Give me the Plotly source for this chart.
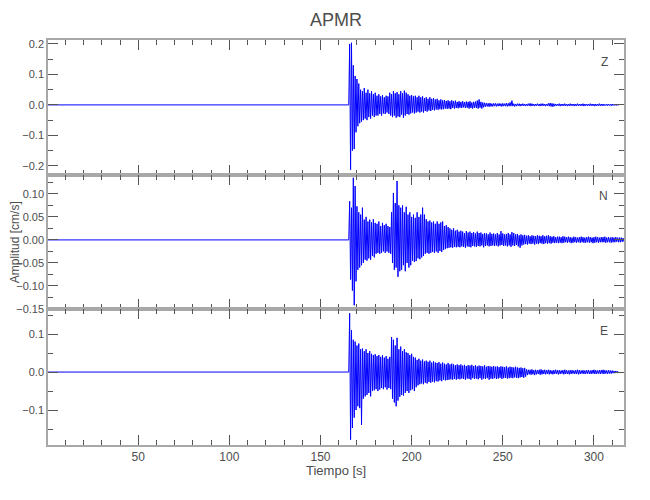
import plotly.graph_objects as go
from plotly.subplots import make_subplots

# ---- data ----
# Amplitudes in 0.001 cm/s. For each 1-s window starting at t_onset, the
# highest (max) and lowest (min) value of the trace in that window.
t_start = 0.5          # first sample time [s]
t_onset = 165.0        # start of the first window [s]
win = 1.0              # window length [s]
scale = 0.001          # cm/s per stored unit

z_max = [0, 200, 204, 130, 95, 85, 70, 50, 45, 55,
         40, 50, 38, 45, 35, 40, 30, 35, 28, 32,
         25, 30, 28, 40, 35, 45, 38, 42, 35, 45,
         38, 47, 40, 35, 30, 32, 28, 30, 25, 30,
         25, 28, 22, 25, 20, 25, 20, 22, 18, 20,
         15, 18, 15, 16, 13, 15, 12, 15, 12, 14,
         10, 12, 10, 12, 9, 11, 10, 12, 8, 10,
         11, 14, 18, 10, 8, 7, 6, 5, 6, 4,
         5, 5, 4, 5, 4, 5, 4, 6, 5, 8,
         14, 4, 3, 4, 4, 3, 4, 3, 3, 4,
         5, 4, 3, 3, 4, 3, 4, 4, 3, 3,
         5, 6, 5, 4, 3, 3, 4, 3, 3, 4,
         3, 3, 4, 3, 3, 3, 4, 3, 3, 4,
         3, 3, 3, 4, 3, 3, 3, 3, 4, 3,
         3, 2, 3, 3, 2, 3, 2, 2, 1]
z_min = [0, -213, -150, -145, -90, -70, -60, -55, -50, -45,
         -50, -40, -45, -35, -40, -35, -35, -30, -35, -28,
         -30, -25, -30, -35, -40, -35, -42, -38, -40, -32,
         -42, -35, -30, -32, -28, -25, -28, -25, -22, -25,
         -22, -25, -20, -22, -18, -20, -16, -18, -15, -16,
         -14, -15, -14, -12, -13, -12, -14, -10, -12, -10,
         -11, -9, -10, -8, -10, -9, -12, -10, -12, -9,
         -10, -12, -9, -12, -8, -6, -5, -6, -5, -5,
         -4, -5, -4, -4, -5, -4, -4, -5, -4, -4,
         -4, -5, -4, -3, -4, -3, -3, -4, -3, -3,
         -4, -3, -4, -3, -3, -4, -3, -3, -4, -3,
         -4, -5, -6, -4, -3, -3, -4, -3, -3, -3,
         -4, -3, -3, -3, -4, -3, -3, -3, -3, -4,
         -3, -3, -3, -3, -3, -4, -3, -3, -3, -3,
         -3, -2, -3, -2, -3, -2, -2, -2, -1]

n_max = [0, 84, 70, 135, 117, 73, 60, 55, 70, 44,
         50, 40, 44, 38, 45, 37, 35, 40, 30, 37,
         32, 35, 30, 28, 60, 102, 80, 128, 75, 70,
         75, 60, 72, 55, 60, 50, 55, 48, 60, 50,
         55, 70, 55, 45, 40, 42, 38, 40, 35, 40,
         35, 38, 40, 30, 32, 28, 25, 22, 25, 20,
         22, 18, 20, 18, 15, 19, 16, 18, 15, 17,
         14, 18, 15, 16, 13, 15, 14, 12, 16, 13,
         14, 12, 15, 12, 19, 14, 12, 13, 15, 12,
         17, 15, 12, 13, 10, 12, 10, 11, 9, 10,
         8, 10, 9, 8, 10, 9, 8, 10, 8, 9,
         10, 8, 7, 8, 6, 7, 7, 6, 8, 7,
         6, 7, 6, 5, 7, 6, 5, 6, 7, 6,
         5, 6, 7, 6, 5, 6, 7, 6, 5, 6,
         6, 7, 5, 6, 5, 6, 5, 6, 5, 5,
         5, 4]
n_min = [0, -86, -110, -142, -90, -65, -60, -55, -50, -43,
         -45, -40, -43, -35, -38, -30, -28, -30, -28, -25,
         -28, -25, -28, -30, -50, -65, -60, -80, -68, -65,
         -55, -68, -50, -60, -55, -45, -48, -46, -40, -42,
         -38, -35, -30, -28, -30, -28, -26, -28, -25, -28,
         -24, -26, -22, -20, -18, -17, -16, -17, -15, -16,
         -15, -16, -14, -15, -17, -14, -15, -16, -13, -14,
         -15, -13, -14, -12, -16, -13, -12, -14, -13, -12,
         -13, -12, -14, -12, -11, -13, -12, -14, -12, -15,
         -12, -13, -11, -14, -17, -12, -10, -9, -10, -8,
         -9, -8, -10, -8, -9, -7, -8, -9, -7, -8,
         -7, -8, -6, -7, -6, -7, -6, -7, -6, -5,
         -6, -5, -7, -6, -5, -6, -5, -6, -5, -6,
         -6, -5, -6, -5, -7, -6, -5, -6, -5, -5,
         -5, -6, -5, -5, -6, -5, -5, -4, -5, -5,
         -4, -4]

e_max = [0, 155, 110, 85, 80, 70, 75, 60, 62, 55,
         60, 50, 55, 48, 45, 47, 42, 45, 40, 44,
         38, 42, 35, 40, 92, 85, 70, 90, 60, 67,
         55, 60, 52, 50, 45, 48, 40, 38, 32, 35,
         30, 33, 28, 30, 27, 30, 25, 28, 25, 24,
         26, 22, 25, 22, 20, 24, 20, 22, 20, 18,
         20, 18, 20, 17, 19, 16, 18, 17, 19, 16,
         18, 15, 17, 16, 15, 18, 14, 16, 15, 14,
         16, 14, 15, 13, 15, 14, 13, 15, 12, 14,
         13, 12, 14, 12, 11, 12, 10, 11, 7, 6,
         6, 7, 5, 6, 5, 6, 7, 5, 6, 5,
         6, 5, 4, 5, 6, 5, 5, 4, 5, 6,
         5, 4, 5, 5, 4, 5, 6, 5, 4, 5,
         4, 5, 5, 4, 5, 6, 5, 4, 5, 5,
         6, 5, 4, 5, 4, 4, 3, 3, 2]
e_min = [0, -178, -147, -120, -100, -90, -95, -139, -70, -64,
         -60, -55, -64, -50, -48, -45, -50, -46, -42, -45,
         -40, -46, -42, -45, -70, -80, -90, -75, -65, -60,
         -62, -55, -50, -55, -48, -45, -50, -40, -35, -32,
         -30, -32, -28, -30, -26, -28, -25, -27, -24, -25,
         -22, -24, -20, -22, -21, -20, -19, -20, -18, -20,
         -18, -19, -17, -18, -20, -17, -18, -20, -16, -18,
         -17, -19, -16, -20, -17, -18, -16, -20, -17, -18,
         -16, -18, -17, -15, -18, -16, -15, -17, -16, -15,
         -16, -14, -15, -16, -14, -13, -15, -12, -8, -6,
         -7, -6, -8, -6, -5, -7, -6, -5, -6, -5,
         -6, -5, -6, -5, -5, -6, -5, -4, -6, -5,
         -5, -6, -5, -4, -5, -5, -6, -5, -4, -5,
         -5, -4, -5, -5, -4, -5, -5, -4, -5, -4,
         -5, -4, -5, -4, -4, -3, -3, -2, -2]

components = ["Z", "N", "E"]
maxima = [z_max, n_max, e_max]
minima = [z_min, n_min, e_min]
y_ranges = [[-0.23, 0.213], [-0.15, 0.141], [-0.192, 0.166]]
y_dticks = [0.1, 0.05, 0.1]
y_minor = [0.05, 0.025, 0.05]
y_formats = [".1f", ".2f", ".1f"]
x_range = [0.5, 316.5]

title = "APMR"
x_title = "Tiempo [s]"
y_title = "Amplitud [cm/s]"

FONT = "Liberation Sans, Arial, sans-serif"
TXT = "#4d4d4d"
AX = "#a8a8a8"
TICK = "#555555"

fig = make_subplots(rows=3, cols=1, shared_xaxes=True, vertical_spacing=0)

for i in range(3):
    tt = [t_start]
    yy = [0.0]
    for k, (hi, lo) in enumerate(zip(maxima[i], minima[i])):
        t0 = t_onset + k * win
        tt += [t0, t0 + win / 2]
        yy += [hi * scale, lo * scale]
    fig.add_trace(go.Scatter(x=tt, y=yy, mode="lines",
                             line=dict(color="#0000ff", width=1),
                             showlegend=False, hoverinfo="skip"),
                  row=i + 1, col=1)

domains = [[0.6667, 1.0], [0.3358, 0.6667], [0.0, 0.3358]]
for i in range(3):
    r = i + 1
    fig.update_yaxes(range=y_ranges[i], dtick=y_dticks[i], tick0=0,
                     tickformat=y_formats[i], domain=domains[i],
                     ticks="inside", ticklen=10, tickwidth=1, tickcolor=TICK,
                     minor=dict(ticks="inside", dtick=y_minor[i], ticklen=5,
                                tickcolor=TICK),
                     showline=True, linecolor=AX, linewidth=1.5, mirror="allticks",
                     showgrid=False, zeroline=False, automargin=False,
                     tickfont=dict(family=FONT, size=11, color=TXT),
                     row=r, col=1)
    fig.update_xaxes(range=x_range, dtick=50, tick0=0,
                     ticks="inside", ticklen=10, tickwidth=1, tickcolor=TICK,
                     minor=dict(ticks="inside", dtick=10, ticklen=5,
                                tickcolor=TICK),
                     showline=True, linecolor=AX, linewidth=1.5, mirror="allticks",
                     showgrid=False, zeroline=False, automargin=False,
                     showticklabels=(r == 3),
                     tickfont=dict(family=FONT, size=12, color=TXT),
                     row=r, col=1)
    yref = "y domain" if r == 1 else f"y{r} domain"
    xref = "x domain" if r == 1 else f"x{r} domain"
    fig.add_annotation(text=components[i], xref=xref, yref=yref,
                       x=0.975, y=0.84, xanchor="right", yanchor="middle",
                       showarrow=False,
                       font=dict(family=FONT, size=12, color=TXT))

fig.add_annotation(text=x_title, xref="paper", yref="paper",
                   x=0.5, y=-0.062, xanchor="center", yanchor="middle",
                   showarrow=False, font=dict(family=FONT, size=13, color=TXT))
fig.add_annotation(text=y_title, xref="paper", yref="paper",
                   x=-0.057, y=0.501, xanchor="center", yanchor="middle",
                   textangle=-90,
                   showarrow=False, font=dict(family=FONT, size=12, color=TXT))

# page body adds an 8-px offset; size the figure so the plot area lands
# where it is in the reference
fig.update_layout(
    width=642, height=492,
    margin=dict(l=40, r=26, t=32, b=55),
    paper_bgcolor="white", plot_bgcolor="white",
    title=dict(text=title, xref="paper", x=0.5, xanchor="center",
               y=0.9756, yanchor="middle",
               font=dict(family=FONT, size=18, color=TXT)),
    font=dict(family=FONT, color=TXT),
)

fig.write_html("out.html")
